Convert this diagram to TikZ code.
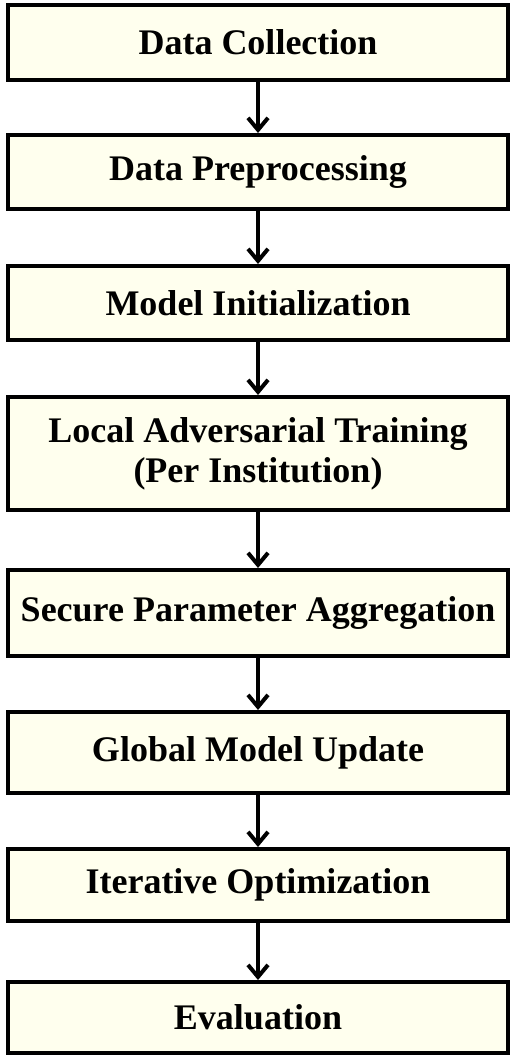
\documentclass[tikz,border=0pt]{standalone}
\usepackage{fontspec}
\setmainfont{Liberation Serif}
\usetikzlibrary{arrows.meta}
\definecolor{cream}{RGB}{255,255,238}
\tikzset{
    stage/.style={draw, line width=2pt, fill=cream, minimum width=250pt, align=center, font=\bfseries\fontsize{18}{20}\selectfont},
    flow/.style={-{Straight Barb[length=6pt,width=10pt]}, line width=2pt}
}
\begin{document}
\begin{tikzpicture}[x=0.5pt,y=-0.5pt]
    \useasboundingbox (0,0) rectangle (520,1058);
    \node[stage, minimum height=37.5pt] (collect) at (258,42.5) {Data Collection};
    \node[stage, minimum height=37pt] (prep) at (258,172) {Data Preprocessing};
    \node[stage, minimum height=37pt] (init) at (258,303) {Model Initialization};
    \node[stage, minimum height=56.5pt] (local) at (258,453.5) {Local Adversarial Training\\(Per Institution)};
    \node[stage, minimum height=43pt] (agg) at (258,613) {Secure Parameter Aggregation};
    \node[stage, minimum height=40.5pt] (glob) at (258,752.5) {Global Model Update};
    \node[stage, minimum height=36pt] (iter) at (258,885) {Iterative Optimization};
    \node[stage, minimum height=35.5pt] (eval) at (258,1017.5) {Evaluation};
    % arrows between stages
    \foreach \a/\b in {collect/prep, prep/init, init/local, local/agg, agg/glob, glob/iter, iter/eval}
        \draw[flow] (\a) -- (\b);
\end{tikzpicture}
\end{document}
